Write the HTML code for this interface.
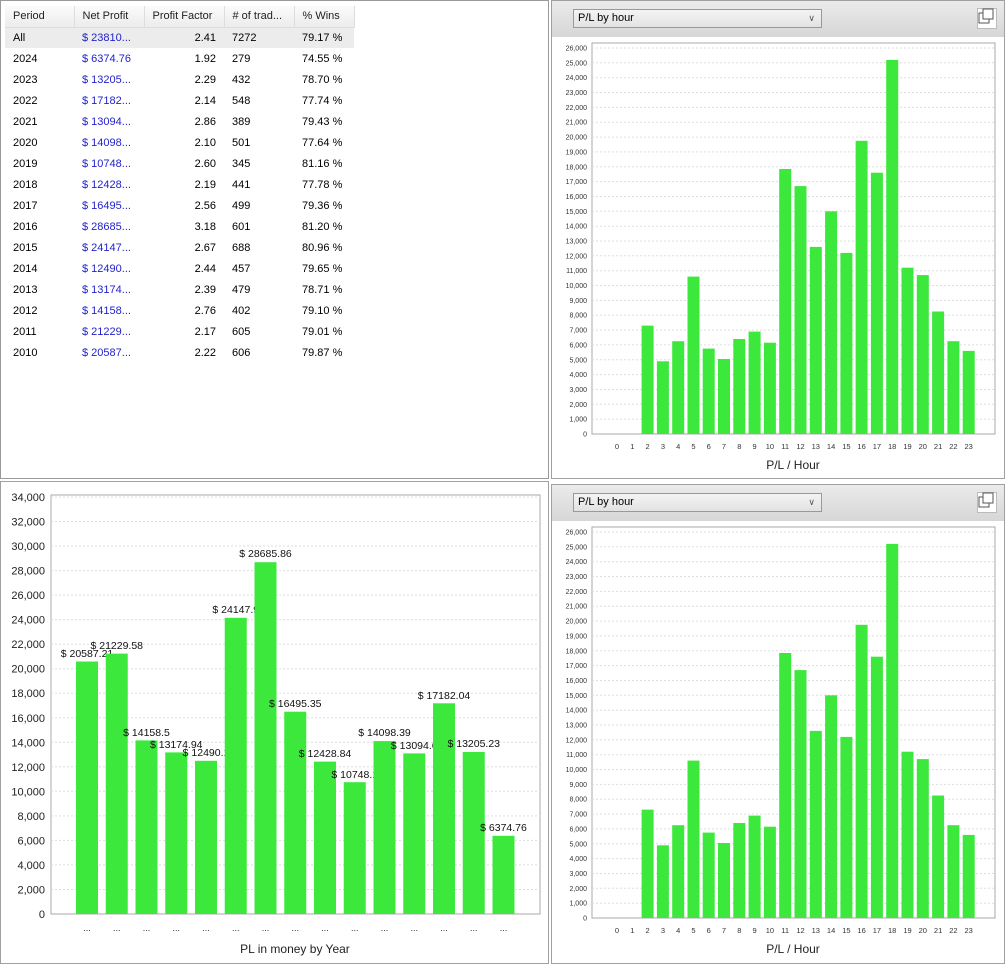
<!DOCTYPE html>
<html><head><meta charset="utf-8"><style>
body{margin:0;width:1006px;height:965px;background:#fff;font-family:"Liberation Sans",sans-serif;position:relative;overflow:hidden}
.p{position:absolute;border:1px solid #a0a0a0;box-sizing:border-box;background:#fff}
table{border-collapse:collapse;position:absolute;left:4px;top:5px;font-size:11px}
td,th{height:21px;padding:0 8px;white-space:nowrap;font-weight:normal;box-sizing:border-box}
th{height:21px;background:linear-gradient(#fbfbfb,#ececec);border-right:1px solid #ddd;border-bottom:1px solid #ddd;text-align:left;color:#222}
td.n{color:#2222cc}
td.r{text-align:right}
tr.a td{background:#ececec}
.hd{position:absolute;left:0;top:0;width:100%;height:36px;background:linear-gradient(#ebebeb,#d6d6d6)}
.sel{position:absolute;left:21px;top:8px;width:249px;height:19px;border:1px solid #999;background:linear-gradient(#f4f4f4,#e2e2e2);box-sizing:border-box;font-size:11px;line-height:17px;padding-left:4px}
.sel span{position:absolute;right:6px;top:0;font-size:9px;color:#555}
.ic{position:absolute;right:7px;top:7px;width:20px;height:21px;border:1px solid #bbb;background:#fff;box-sizing:border-box}
</style></head><body>
<div class="p" style="left:0;top:0;width:549px;height:479px;border-color:#999">
<table>
<tr><th style="width:69px">Period</th><th style="width:70px">Net Profit</th><th style="width:80px">Profit Factor</th><th style="width:70px"># of trad...</th><th style="width:60px">% Wins</th></tr>
<tr class="a"><td>All</td><td class="n">$ 23810...</td><td class="r">2.41</td><td>7272</td><td>79.17 %</td></tr>
<tr><td>2024</td><td class="n">$ 6374.76</td><td class="r">1.92</td><td>279</td><td>74.55 %</td></tr>
<tr><td>2023</td><td class="n">$ 13205...</td><td class="r">2.29</td><td>432</td><td>78.70 %</td></tr>
<tr><td>2022</td><td class="n">$ 17182...</td><td class="r">2.14</td><td>548</td><td>77.74 %</td></tr>
<tr><td>2021</td><td class="n">$ 13094...</td><td class="r">2.86</td><td>389</td><td>79.43 %</td></tr>
<tr><td>2020</td><td class="n">$ 14098...</td><td class="r">2.10</td><td>501</td><td>77.64 %</td></tr>
<tr><td>2019</td><td class="n">$ 10748...</td><td class="r">2.60</td><td>345</td><td>81.16 %</td></tr>
<tr><td>2018</td><td class="n">$ 12428...</td><td class="r">2.19</td><td>441</td><td>77.78 %</td></tr>
<tr><td>2017</td><td class="n">$ 16495...</td><td class="r">2.56</td><td>499</td><td>79.36 %</td></tr>
<tr><td>2016</td><td class="n">$ 28685...</td><td class="r">3.18</td><td>601</td><td>81.20 %</td></tr>
<tr><td>2015</td><td class="n">$ 24147...</td><td class="r">2.67</td><td>688</td><td>80.96 %</td></tr>
<tr><td>2014</td><td class="n">$ 12490...</td><td class="r">2.44</td><td>457</td><td>79.65 %</td></tr>
<tr><td>2013</td><td class="n">$ 13174...</td><td class="r">2.39</td><td>479</td><td>78.71 %</td></tr>
<tr><td>2012</td><td class="n">$ 14158...</td><td class="r">2.76</td><td>402</td><td>79.10 %</td></tr>
<tr><td>2011</td><td class="n">$ 21229...</td><td class="r">2.17</td><td>605</td><td>79.01 %</td></tr>
<tr><td>2010</td><td class="n">$ 20587...</td><td class="r">2.22</td><td>606</td><td>79.87 %</td></tr>
</table></div>

<div class="p" style="left:551px;top:0;width:454px;height:479px"><div class="hd"></div><div class="sel">P/L by hour<span>&#8744;</span></div><div class="ic"></div></div>
<div class="p" style="left:551px;top:484px;width:454px;height:480px"><div class="hd"></div><div class="sel">P/L by hour<span>&#8744;</span></div><div class="ic"></div></div>
<div class="p" style="left:0;top:481px;width:549px;height:483px"></div>

<svg width="1006" height="965" style="position:absolute;left:0;top:0" font-family="Liberation Sans, sans-serif">
<g fill="none" stroke="#555"><rect x="979" y="13" width="10" height="10" fill="#fff"/><rect x="983" y="9" width="10" height="10" fill="#fff"/>
<rect x="979" y="497" width="10" height="10" fill="#fff"/><rect x="983" y="493" width="10" height="10" fill="#fff"/></g>

<g id="h1">
<rect x="592" y="43" width="403" height="391" fill="none" stroke="#aaa"/>
<g stroke="#ddd" stroke-dasharray="2,2">
<line x1="592" x2="995" y1="419.2" y2="419.2"/><line x1="592" x2="995" y1="404.3" y2="404.3"/><line x1="592" x2="995" y1="389.5" y2="389.5"/><line x1="592" x2="995" y1="374.6" y2="374.6"/><line x1="592" x2="995" y1="359.8" y2="359.8"/><line x1="592" x2="995" y1="344.9" y2="344.9"/><line x1="592" x2="995" y1="330.1" y2="330.1"/><line x1="592" x2="995" y1="315.2" y2="315.2"/><line x1="592" x2="995" y1="300.4" y2="300.4"/><line x1="592" x2="995" y1="285.5" y2="285.5"/><line x1="592" x2="995" y1="270.7" y2="270.7"/><line x1="592" x2="995" y1="255.8" y2="255.8"/><line x1="592" x2="995" y1="241" y2="241"/><line x1="592" x2="995" y1="226.2" y2="226.2"/><line x1="592" x2="995" y1="211.3" y2="211.3"/><line x1="592" x2="995" y1="196.5" y2="196.5"/><line x1="592" x2="995" y1="181.6" y2="181.6"/><line x1="592" x2="995" y1="166.8" y2="166.8"/><line x1="592" x2="995" y1="151.9" y2="151.9"/><line x1="592" x2="995" y1="137.1" y2="137.1"/><line x1="592" x2="995" y1="122.2" y2="122.2"/><line x1="592" x2="995" y1="107.4" y2="107.4"/><line x1="592" x2="995" y1="92.5" y2="92.5"/><line x1="592" x2="995" y1="77.7" y2="77.7"/><line x1="592" x2="995" y1="62.8" y2="62.8"/><line x1="592" x2="995" y1="48" y2="48"/>
</g>
<g font-size="7" fill="#333" text-anchor="end">
<text x="587" y="436.5">0</text><text x="587" y="421.7">1,000</text><text x="587" y="406.8">2,000</text><text x="587" y="392">3,000</text><text x="587" y="377.1">4,000</text><text x="587" y="362.3">5,000</text><text x="587" y="347.4">6,000</text><text x="587" y="332.6">7,000</text><text x="587" y="317.7">8,000</text><text x="587" y="302.9">9,000</text><text x="587" y="288">10,000</text><text x="587" y="273.2">11,000</text><text x="587" y="258.3">12,000</text><text x="587" y="243.5">13,000</text><text x="587" y="228.7">14,000</text><text x="587" y="213.8">15,000</text><text x="587" y="199">16,000</text><text x="587" y="184.1">17,000</text><text x="587" y="169.3">18,000</text><text x="587" y="154.4">19,000</text><text x="587" y="139.6">20,000</text><text x="587" y="124.7">21,000</text><text x="587" y="109.9">22,000</text><text x="587" y="95">23,000</text><text x="587" y="80.2">24,000</text><text x="587" y="65.3">25,000</text><text x="587" y="50.5">26,000</text>
</g>
<g fill="#3de83d">
<rect x="641.6" y="325.6" width="12" height="108.4"/><rect x="656.9" y="361.3" width="12" height="72.7"/><rect x="672.2" y="341.2" width="12" height="92.8"/><rect x="687.5" y="276.6" width="12" height="157.4"/><rect x="702.7" y="348.6" width="12" height="85.4"/><rect x="718" y="359" width="12" height="75"/><rect x="733.3" y="339" width="12" height="95"/><rect x="748.6" y="331.6" width="12" height="102.4"/><rect x="763.9" y="342.7" width="12" height="91.3"/><rect x="779.2" y="169" width="12" height="265"/><rect x="794.5" y="186.1" width="12" height="247.9"/><rect x="809.8" y="246.9" width="12" height="187.1"/><rect x="825.1" y="211.3" width="12" height="222.7"/><rect x="840.4" y="252.9" width="12" height="181.1"/><rect x="855.6" y="140.8" width="12" height="293.2"/><rect x="870.9" y="172.7" width="12" height="261.3"/><rect x="886.2" y="59.9" width="12" height="374.1"/><rect x="901.5" y="267.7" width="12" height="166.3"/><rect x="916.8" y="275.1" width="12" height="158.9"/><rect x="932.1" y="311.5" width="12" height="122.5"/><rect x="947.4" y="341.2" width="12" height="92.8"/><rect x="962.7" y="350.9" width="12" height="83.1"/>
</g>
<g font-size="7.5" fill="#333" text-anchor="middle">
<text x="617" y="449">0</text><text x="632.3" y="449">1</text><text x="647.6" y="449">2</text><text x="662.9" y="449">3</text><text x="678.2" y="449">4</text><text x="693.5" y="449">5</text><text x="708.7" y="449">6</text><text x="724" y="449">7</text><text x="739.3" y="449">8</text><text x="754.6" y="449">9</text><text x="769.9" y="449">10</text><text x="785.2" y="449">11</text><text x="800.5" y="449">12</text><text x="815.8" y="449">13</text><text x="831.1" y="449">14</text><text x="846.4" y="449">15</text><text x="861.6" y="449">16</text><text x="876.9" y="449">17</text><text x="892.2" y="449">18</text><text x="907.5" y="449">19</text><text x="922.8" y="449">20</text><text x="938.1" y="449">21</text><text x="953.4" y="449">22</text><text x="968.7" y="449">23</text>
</g>
<text x="793" y="469" font-size="12" fill="#222" text-anchor="middle">P/L / Hour</text>
</g>

<g transform="translate(0,484)">
<rect x="592" y="43" width="403" height="391" fill="none" stroke="#aaa"/>
<g stroke="#ddd" stroke-dasharray="2,2">
<line x1="592" x2="995" y1="419.2" y2="419.2"/><line x1="592" x2="995" y1="404.3" y2="404.3"/><line x1="592" x2="995" y1="389.5" y2="389.5"/><line x1="592" x2="995" y1="374.6" y2="374.6"/><line x1="592" x2="995" y1="359.8" y2="359.8"/><line x1="592" x2="995" y1="344.9" y2="344.9"/><line x1="592" x2="995" y1="330.1" y2="330.1"/><line x1="592" x2="995" y1="315.2" y2="315.2"/><line x1="592" x2="995" y1="300.4" y2="300.4"/><line x1="592" x2="995" y1="285.5" y2="285.5"/><line x1="592" x2="995" y1="270.7" y2="270.7"/><line x1="592" x2="995" y1="255.8" y2="255.8"/><line x1="592" x2="995" y1="241" y2="241"/><line x1="592" x2="995" y1="226.2" y2="226.2"/><line x1="592" x2="995" y1="211.3" y2="211.3"/><line x1="592" x2="995" y1="196.5" y2="196.5"/><line x1="592" x2="995" y1="181.6" y2="181.6"/><line x1="592" x2="995" y1="166.8" y2="166.8"/><line x1="592" x2="995" y1="151.9" y2="151.9"/><line x1="592" x2="995" y1="137.1" y2="137.1"/><line x1="592" x2="995" y1="122.2" y2="122.2"/><line x1="592" x2="995" y1="107.4" y2="107.4"/><line x1="592" x2="995" y1="92.5" y2="92.5"/><line x1="592" x2="995" y1="77.7" y2="77.7"/><line x1="592" x2="995" y1="62.8" y2="62.8"/><line x1="592" x2="995" y1="48" y2="48"/>
</g>
<g font-size="7" fill="#333" text-anchor="end">
<text x="587" y="436.5">0</text><text x="587" y="421.7">1,000</text><text x="587" y="406.8">2,000</text><text x="587" y="392">3,000</text><text x="587" y="377.1">4,000</text><text x="587" y="362.3">5,000</text><text x="587" y="347.4">6,000</text><text x="587" y="332.6">7,000</text><text x="587" y="317.7">8,000</text><text x="587" y="302.9">9,000</text><text x="587" y="288">10,000</text><text x="587" y="273.2">11,000</text><text x="587" y="258.3">12,000</text><text x="587" y="243.5">13,000</text><text x="587" y="228.7">14,000</text><text x="587" y="213.8">15,000</text><text x="587" y="199">16,000</text><text x="587" y="184.1">17,000</text><text x="587" y="169.3">18,000</text><text x="587" y="154.4">19,000</text><text x="587" y="139.6">20,000</text><text x="587" y="124.7">21,000</text><text x="587" y="109.9">22,000</text><text x="587" y="95">23,000</text><text x="587" y="80.2">24,000</text><text x="587" y="65.3">25,000</text><text x="587" y="50.5">26,000</text>
</g>
<g fill="#3de83d">
<rect x="641.6" y="325.6" width="12" height="108.4"/><rect x="656.9" y="361.3" width="12" height="72.7"/><rect x="672.2" y="341.2" width="12" height="92.8"/><rect x="687.5" y="276.6" width="12" height="157.4"/><rect x="702.7" y="348.6" width="12" height="85.4"/><rect x="718" y="359" width="12" height="75"/><rect x="733.3" y="339" width="12" height="95"/><rect x="748.6" y="331.6" width="12" height="102.4"/><rect x="763.9" y="342.7" width="12" height="91.3"/><rect x="779.2" y="169" width="12" height="265"/><rect x="794.5" y="186.1" width="12" height="247.9"/><rect x="809.8" y="246.9" width="12" height="187.1"/><rect x="825.1" y="211.3" width="12" height="222.7"/><rect x="840.4" y="252.9" width="12" height="181.1"/><rect x="855.6" y="140.8" width="12" height="293.2"/><rect x="870.9" y="172.7" width="12" height="261.3"/><rect x="886.2" y="59.9" width="12" height="374.1"/><rect x="901.5" y="267.7" width="12" height="166.3"/><rect x="916.8" y="275.1" width="12" height="158.9"/><rect x="932.1" y="311.5" width="12" height="122.5"/><rect x="947.4" y="341.2" width="12" height="92.8"/><rect x="962.7" y="350.9" width="12" height="83.1"/>
</g>
<g font-size="7.5" fill="#333" text-anchor="middle">
<text x="617" y="449">0</text><text x="632.3" y="449">1</text><text x="647.6" y="449">2</text><text x="662.9" y="449">3</text><text x="678.2" y="449">4</text><text x="693.5" y="449">5</text><text x="708.7" y="449">6</text><text x="724" y="449">7</text><text x="739.3" y="449">8</text><text x="754.6" y="449">9</text><text x="769.9" y="449">10</text><text x="785.2" y="449">11</text><text x="800.5" y="449">12</text><text x="815.8" y="449">13</text><text x="831.1" y="449">14</text><text x="846.4" y="449">15</text><text x="861.6" y="449">16</text><text x="876.9" y="449">17</text><text x="892.2" y="449">18</text><text x="907.5" y="449">19</text><text x="922.8" y="449">20</text><text x="938.1" y="449">21</text><text x="953.4" y="449">22</text><text x="968.7" y="449">23</text>
</g>
<text x="793" y="469" font-size="12" fill="#222" text-anchor="middle">P/L / Hour</text>
</g>

<!-- bottom-left -->
<rect x="51" y="495" width="489" height="419" fill="none" stroke="#aaa"/>
<g stroke="#ddd" stroke-dasharray="2,2">
<line x1="51" x2="540" y1="889.5" y2="889.5"/><line x1="51" x2="540" y1="864.9" y2="864.9"/><line x1="51" x2="540" y1="840.4" y2="840.4"/><line x1="51" x2="540" y1="815.9" y2="815.9"/><line x1="51" x2="540" y1="791.3" y2="791.3"/><line x1="51" x2="540" y1="766.8" y2="766.8"/><line x1="51" x2="540" y1="742.3" y2="742.3"/><line x1="51" x2="540" y1="717.8" y2="717.8"/><line x1="51" x2="540" y1="693.2" y2="693.2"/><line x1="51" x2="540" y1="668.7" y2="668.7"/><line x1="51" x2="540" y1="644.2" y2="644.2"/><line x1="51" x2="540" y1="619.6" y2="619.6"/><line x1="51" x2="540" y1="595.1" y2="595.1"/><line x1="51" x2="540" y1="570.6" y2="570.6"/><line x1="51" x2="540" y1="546" y2="546"/><line x1="51" x2="540" y1="521.5" y2="521.5"/><line x1="51" x2="540" y1="497" y2="497"/>
</g>
<g font-size="11" fill="#222" text-anchor="end">
<text x="45" y="918">0</text><text x="45" y="893.5">2,000</text><text x="45" y="868.9">4,000</text><text x="45" y="844.4">6,000</text><text x="45" y="819.9">8,000</text><text x="45" y="795.3">10,000</text><text x="45" y="770.8">12,000</text><text x="45" y="746.3">14,000</text><text x="45" y="721.8">16,000</text><text x="45" y="697.2">18,000</text><text x="45" y="672.7">20,000</text><text x="45" y="648.2">22,000</text><text x="45" y="623.6">24,000</text><text x="45" y="599.1">26,000</text><text x="45" y="574.6">28,000</text><text x="45" y="550">30,000</text><text x="45" y="525.5">32,000</text><text x="45" y="501">34,000</text>
</g>
<g font-size="10.5" fill="#111" text-anchor="middle">
<text x="87" y="657">$ 20587.21</text><rect x="76" y="661.5" width="22" height="252.5" fill="#3de83d"/>
<text x="116.75" y="649">$ 21229.58</text><rect x="105.75" y="653.6" width="22" height="260.4" fill="#3de83d"/>
<text x="146.5" y="736">$ 14158.5</text><rect x="135.5" y="740.4" width="22" height="173.6" fill="#3de83d"/>
<text x="176.25" y="748">$ 13174.94</text><rect x="165.25" y="752.4" width="22" height="161.6" fill="#3de83d"/>
<text x="206" y="756">$ 12490.1</text><rect x="195" y="760.8" width="22" height="153.2" fill="#3de83d"/>
<text x="235.75" y="613">$ 24147.9</text><rect x="224.75" y="617.8" width="22" height="296.2" fill="#3de83d"/>
<text x="265.5" y="557">$ 28685.86</text><rect x="254.5" y="562.2" width="22" height="351.8" fill="#3de83d"/>
<text x="295.25" y="707">$ 16495.35</text><rect x="284.25" y="711.7" width="22" height="202.3" fill="#3de83d"/>
<text x="325" y="757">$ 12428.84</text><rect x="314" y="761.6" width="22" height="152.4" fill="#3de83d"/>
<text x="354.75" y="778">$ 10748.1</text><rect x="343.75" y="782.2" width="22" height="131.8" fill="#3de83d"/>
<text x="384.5" y="736">$ 14098.39</text><rect x="373.5" y="741.1" width="22" height="172.9" fill="#3de83d"/>
<text x="414.25" y="749">$ 13094.6</text><rect x="403.25" y="753.4" width="22" height="160.6" fill="#3de83d"/>
<text x="444" y="699">$ 17182.04</text><rect x="433" y="703.3" width="22" height="210.7" fill="#3de83d"/>
<text x="473.75" y="747">$ 13205.23</text><rect x="462.75" y="752" width="22" height="162" fill="#3de83d"/>
<text x="503.5" y="831">$ 6374.76</text><rect x="492.5" y="835.8" width="22" height="78.2" fill="#3de83d"/>
</g>
<g font-size="9" fill="#333" text-anchor="middle">
<text x="87" y="931">...</text><text x="116.75" y="931">...</text><text x="146.5" y="931">...</text><text x="176.25" y="931">...</text><text x="206" y="931">...</text><text x="235.75" y="931">...</text><text x="265.5" y="931">...</text><text x="295.25" y="931">...</text><text x="325" y="931">...</text><text x="354.75" y="931">...</text><text x="384.5" y="931">...</text><text x="414.25" y="931">...</text><text x="444" y="931">...</text><text x="473.75" y="931">...</text><text x="503.5" y="931">...</text>
</g>
<text x="295" y="953" font-size="12" fill="#222" text-anchor="middle">PL in money by Year</text>
</svg>
</body></html>
